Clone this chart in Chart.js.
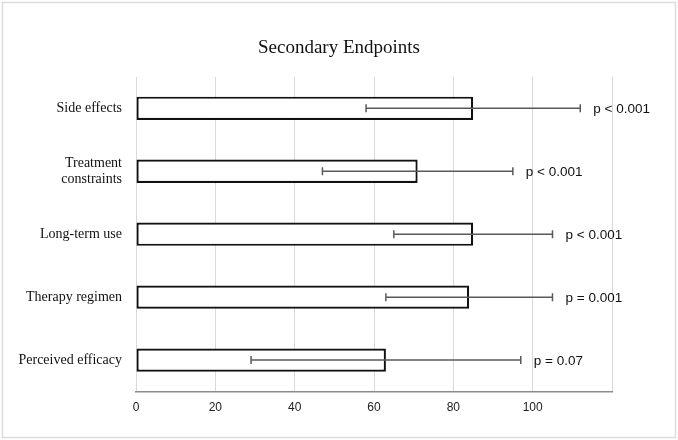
<!DOCTYPE html>
<html lang="en">
<head>
    <meta charset="UTF-8">
    <title>Secondary Endpoints</title>
    <script src="https://cdn.jsdelivr.net/npm/chart.js"></script>
    <style>
        html, body { margin: 0; padding: 0; background: #fff; }
        #wrap { width: 678px; height: 440px; }
    </style>
</head>
<body>
    <div id="wrap"><canvas id="endpointsChart" width="678" height="440"></canvas></div>

    <script>
        // chart data
        const categories = ['Side effects', ['Treatment', 'constraints'], 'Long-term use', 'Therapy regimen', 'Perceived efficacy'];
        const meanScores = [85, 71, 85, 84, 63];
        const errorSizes = [27, 24, 20, 21, 34];
        const pLabels = ['p < 0.001', 'p < 0.001', 'p < 0.001', 'p = 0.001', 'p = 0.07'];
        const xTicks = [0, 20, 40, 60, 80, 100];

        // white background + light frame round the picture
        const framePlugin = {
            id: 'frame',
            beforeDraw(chart) {
                const ctx = chart.ctx;
                ctx.save();
                ctx.fillStyle = '#fff';
                ctx.fillRect(0, 0, chart.width, chart.height);
                ctx.strokeStyle = '#dcdcdc';
                ctx.lineWidth = 1.5;
                ctx.strokeRect(2.5, 2.5, chart.width - 5, chart.height - 5);
                ctx.restore();
            }
        };

        // error bars and p-values, placed with the chart's own scales
        const errorBarPlugin = {
            id: 'errorBars',
            afterDatasetsDraw(chart) {
                const ctx = chart.ctx;
                const x = chart.scales.x;
                const meta = chart.getDatasetMeta(0);
                ctx.save();
                ctx.strokeStyle = '#595959';
                ctx.lineWidth = 1.5;
                meta.data.forEach((bar, i) => {
                    const y = bar.y;
                    const lo = x.getPixelForValue(meanScores[i] - errorSizes[i]);
                    const hi = x.getPixelForValue(meanScores[i] + errorSizes[i]);
                    ctx.beginPath();
                    ctx.moveTo(lo, y);
                    ctx.lineTo(hi, y);
                    ctx.moveTo(lo, y - 4);
                    ctx.lineTo(lo, y + 4);
                    ctx.moveTo(hi, y - 4);
                    ctx.lineTo(hi, y + 4);
                    ctx.stroke();

                    ctx.fillStyle = '#111';
                    ctx.font = '13.5px "Liberation Sans", Arial, sans-serif';
                    ctx.textAlign = 'left';
                    ctx.textBaseline = 'middle';
                    ctx.fillText(pLabels[i], hi + 13, y + 1);
                });
                ctx.restore();
            }
        };

        const ctx = document.getElementById('endpointsChart').getContext('2d');
        new Chart(ctx, {
            type: 'bar',
            data: {
                labels: categories,
                datasets: [{
                    data: meanScores,
                    backgroundColor: '#ffffff',
                    borderColor: '#111111',
                    borderWidth: 2.2,
                    borderSkipped: false,
                    categoryPercentage: 1,
                    barPercentage: 0.37,
                }],
            },
            options: {
                indexAxis: 'y',
                responsive: false,
                animation: false,
                layout: {
                    padding: { left: 0, right: 0, top: 0, bottom: 16 },
                },
                plugins: {
                    legend: { display: false },
                    tooltip: { enabled: false },
                    title: {
                        display: true,
                        text: 'Secondary Endpoints',
                        color: '#111',
                        font: { family: '"Liberation Serif", "Times New Roman", serif', size: 19, weight: 'normal' },
                        padding: { top: 37, bottom: 17 },
                    },
                },
                scales: {
                    x: {
                        min: 0,
                        max: 120,
                        afterBuildTicks(scale) {
                            scale.ticks = [...xTicks, 120].map(v => ({ value: v }));
                        },
                        grid: { color: '#d9d9d9', lineWidth: 1, drawTicks: false },
                        border: { color: '#8c8c8c', width: 1.5 },
                        ticks: {
                            padding: 9,
                            color: '#222',
                            font: { family: '"Liberation Sans", Arial, sans-serif', size: 12 },
                            callback: v => (xTicks.includes(v) ? v : ''),
                        },
                    },
                    y: {
                        afterFit(scale) { scale.width = 136; },
                        grid: { display: false },
                        border: { display: false },
                        ticks: {
                            padding: 6,
                            color: '#111',
                            font: { family: '"Liberation Serif", "Times New Roman", serif', size: 14 },
                        },
                    },
                    // empty right-hand gutter for the p-values, so the title stays centred on the page
                    gutter: {
                        type: 'category',
                        position: 'right',
                        afterFit(scale) { scale.width = 66; },
                        grid: { display: false },
                        border: { display: false },
                        ticks: { display: false },
                    },
                },
            },
            plugins: [framePlugin, errorBarPlugin],
        });
    </script>
</body>
</html>
